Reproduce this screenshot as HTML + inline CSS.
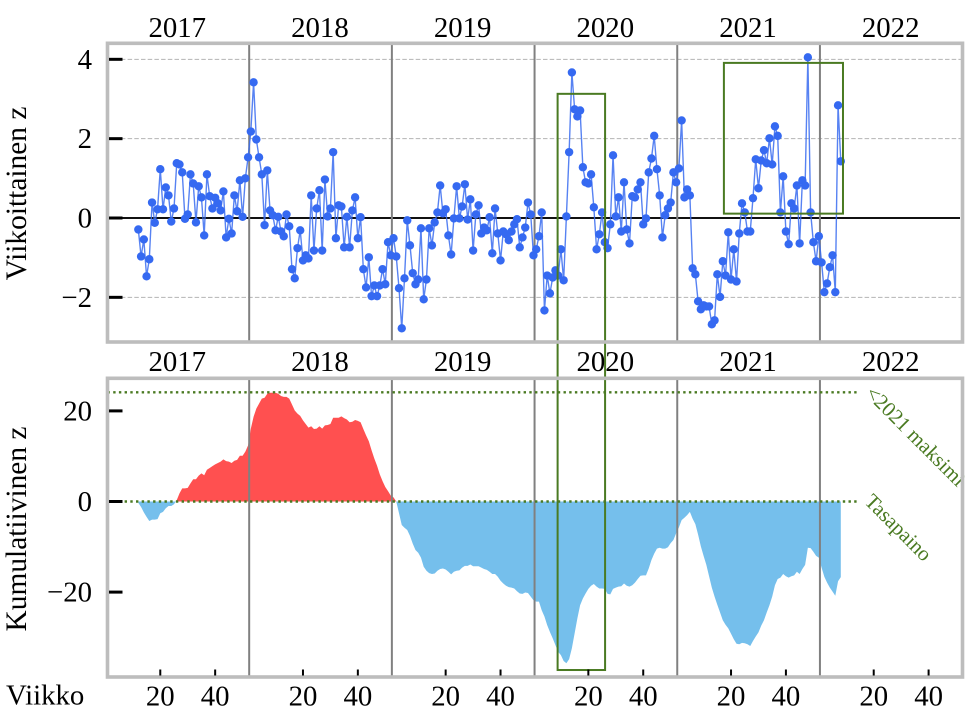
<!DOCTYPE html>
<html lang="fi">
<head>
<meta charset="utf-8">
<title>Viikoittainen ja kumulatiivinen z</title>
<style>
html,body{margin:0;padding:0;background:#fff;}
svg{display:block;}
text{font-family:"Liberation Serif",serif;fill:#000;}
</style>
</head>
<body>
<svg id="chart" xmlns="http://www.w3.org/2000/svg" width="971" height="720" viewBox="0 0 971 720"></svg>
<script>
const firstWeek = 12;
const years = [2017, 2018, 2019, 2020, 2021, 2022];
const weekTicks = [20, 40];
const weeklyTicks = [4, 2, 0, -2];
const gridTicks = [4, 2, -2];
const cumulativeTicks = [20, 0, -20];
const referenceLevels = [24.1, 0];

const weeklyZ = [
-0.29,-0.97,-0.54,-1.47,-1.04,0.39,-0.12,0.22,1.23,0.22,0.77,0.57,-0.09,0.24,1.38,1.35,1.15,-0.02,0.09,1.10,
0.87,-0.11,0.80,0.52,-0.44,1.10,0.55,0.24,0.51,0.37,0.19,0.67,-0.49,-0.02,-0.39,0.57,0.17,0.95,0.03,1.00,
1.53,2.18,3.42,1.98,1.53,1.10,-0.18,1.20,0.19,0.07,-0.31,0.03,-0.34,-0.46,0.09,-0.21,-1.29,-1.52,-0.76,-0.31,
-1.07,-0.94,-1.02,0.57,-0.82,0.24,0.70,-0.82,0.97,0.04,0.24,1.66,-0.51,0.32,0.29,-0.74,0.03,-0.74,0.19,0.52,
-0.51,0.02,-1.29,-1.75,-0.99,-1.97,-1.70,-1.97,-1.70,-1.29,-1.67,-0.61,-0.94,-0.51,-0.97,-1.77,-2.78,-1.52,-0.06,-0.69,
-1.39,-1.67,-1.55,-0.26,-2.05,-1.55,-0.26,-0.69,-0.11,0.14,0.82,0.12,0.22,-0.44,-0.92,-0.01,0.80,-0.01,0.29,0.85,
-0.04,0.47,-0.82,0.09,0.32,-0.39,-0.24,-0.31,0.02,-0.89,0.24,-0.39,-1.07,-0.34,-0.41,-0.56,-0.34,-0.16,-0.03,-0.74,
-0.49,-0.24,0.39,0.09,-0.94,-0.79,-0.46,0.14,-2.33,-1.45,-1.90,-1.50,-1.32,-1.45,-0.79,-1.57,0.04,1.66,3.67,2.74,
2.56,2.71,1.28,0.90,0.87,1.10,0.27,-0.79,-0.41,0.14,-0.61,-0.76,-0.16,1.58,0.04,0.52,-0.34,0.90,-0.29,-0.64,
0.55,0.52,0.72,0.90,-0.16,-0.01,1.15,1.50,2.07,1.23,0.57,-0.49,0.07,0.24,0.39,1.15,0.90,1.25,2.46,0.52,
0.72,0.57,-1.27,-1.42,-2.10,-2.30,-2.20,-2.23,-2.23,-2.68,-2.58,-1.42,-1.99,-1.09,-1.45,-0.36,-1.55,-0.79,-1.60,-0.39,
0.37,0.14,-0.34,-0.34,0.50,1.48,0.75,1.45,1.71,1.38,2.01,1.35,2.31,2.07,0.14,1.05,-0.34,-0.66,0.37,0.24,
0.82,-0.64,0.95,0.82,4.05,0.14,-0.61,-1.09,-0.46,-1.12,-1.87,-1.65,-1.24,-0.94,-1.87,2.84,1.43
];

const cumulativeZ = [
-0.3,-1.2,-2.4,-3.4,-4.3,-4.0,-4.0,-3.9,-2.6,-2.3,-1.5,-1.0,-1.0,-0.6,0.3,1.8,2.9,2.9,3.0,4.0,
4.9,4.9,5.7,6.2,5.8,7.0,7.4,7.8,8.2,8.5,8.8,9.3,8.9,8.8,8.5,9.0,9.2,10.1,10.1,11.0,
12.4,16.1,18.7,20.5,21.6,22.7,22.9,23.8,24.0,24.0,24.0,23.8,23.3,23.1,23.1,22.7,21.4,20.1,19.4,18.9,
17.9,17.1,16.3,16.6,16.0,16.1,16.6,16.1,16.8,16.9,17.1,18.5,18.5,18.5,18.8,18.4,18.1,17.5,17.6,18.0,
17.8,17.5,16.0,14.6,13.3,11.3,9.5,7.9,6.0,4.5,3.2,2.3,1.3,0.9,0,-2.6,-5.2,-5.8,-6.3,-7.6,
-9.3,-10.7,-11.3,-12.4,-14.4,-15.3,-15.8,-16.0,-15.9,-15.3,-14.9,-14.8,-15.0,-15.5,-16.1,-15.5,-15.3,-15.2,-14.6,-14.2,
-14.2,-13.9,-14.3,-14.3,-14.3,-14.6,-14.9,-15.1,-15.5,-16.0,-16.0,-16.6,-17.5,-18.1,-18.6,-18.9,-19.0,-19.2,-19.8,-20.3,
-20.4,-20.1,-20.2,-21.0,-21.8,-22.1,-22.1,-24.0,-25.4,-27.3,-28.8,-30.2,-31.7,-33.2,-33.9,-35.2,-35.7,-34.8,-32.4,-29.1,
-25.8,-22.9,-21.4,-20.3,-19.3,-18.6,-18.2,-18.8,-19.2,-19.2,-19.3,-20.4,-20.5,-19.3,-19.0,-18.8,-18.7,-18.1,-18.6,-18.8,
-18.5,-17.9,-17.1,-16.4,-16.3,-16.3,-14.8,-12.9,-11.5,-10.4,-10.2,-10.4,-10.4,-10.1,-9.2,-8.5,-7.0,-5.7,-4.1,-3.6,
-3.0,-2.3,-3.8,-5.0,-7.3,-9.9,-12.0,-14.0,-16.5,-19.0,-21.0,-22.8,-24.5,-26.2,-27.2,-28.0,-29.2,-30.4,-31.4,-31.5,
-31.2,-31.3,-31.5,-31.9,-30.8,-29.8,-28.9,-27.4,-26.2,-24.5,-22.9,-21.0,-18.5,-17.1,-16.8,-16.0,-16.5,-16.8,-16.5,-16.3,
-15.5,-16.0,-14.9,-14.0,-10.2,-10.3,-11.1,-12.0,-12.4,-14.6,-16.6,-17.9,-19.0,-19.9,-20.8,-17.6,-16.7
];

const svgNS = "http://www.w3.org/2000/svg";
const svg = document.getElementById("chart");
const GREEN = "#4a7a22";
const FRAME = "#bdbdbd";
const LEFT = 107.5, RIGHT = 962.5;
const TOP1 = 43.3, BOT1 = 342, TOP2 = 378.3, BOT2 = 677;
const weeksPerYear = 52;
const FONT = 28.8;

function xScale(t) { return 105.4 + 2.744 * t; }
function yWeekly(v) { return 218 - 39.67 * v; }
function yCum(v) { return 501.5 - 4.53 * v; }
function fmt(v) { return v < 0 ? "\u2212" + Math.abs(v) : String(v); }

function mk(tag, attrs, parent) {
  const e = document.createElementNS(svgNS, tag);
  for (const k in attrs) e.setAttribute(k, attrs[k]);
  (parent || svg).appendChild(e);
  return e;
}

const defs = mk("defs", {});
const clipPos = mk("clipPath", { id: "clip-positive" }, defs);
mk("rect", { x: 0, y: 0, width: 971, height: yCum(0) }, clipPos);
const clipNeg = mk("clipPath", { id: "clip-negative" }, defs);
mk("rect", { x: 0, y: yCum(0), width: 971, height: 720 - yCum(0) }, clipNeg);

/* ---------- top panel ---------- */
const topPanel = mk("g", {});



gridTicks.forEach(function (v) {
  const g = mk("line", { x1: LEFT, x2: RIGHT, y1: yWeekly(v), y2: yWeekly(v), stroke: "#b4b4b4", "stroke-width": 1, "stroke-dasharray": "4.5 2.2" }, topPanel);
  
  
});

const zeroLine = mk("line", { x1: LEFT, x2: 960, y1: yWeekly(0), y2: yWeekly(0), stroke: "#111", "stroke-width": 2 }, topPanel);



years.slice(0, -1).forEach(function (y, k) {
  const tx = xScale(weeksPerYear * (k + 1) + 0.4);
  const l = mk("line", { x1: tx, x2: tx, y1: TOP1, y2: BOT1, stroke: "#808080", "stroke-width": 2 }, topPanel);
  
  
});

const weeklyPts = weeklyZ.map(function (v, i) {
  return xScale(firstWeek + i).toFixed(2) + "," + yWeekly(v).toFixed(2);
}).join(" ");
const weeklyLine = mk("polyline", { points: weeklyPts, fill: "none", stroke: "#3a6cf0", "stroke-opacity": 0.85, "stroke-width": 1.4 }, topPanel);



weeklyZ.forEach(function (v, i) {
  const c = mk("circle", { cx: xScale(firstWeek + i), cy: yWeekly(v), r: 4.2, fill: "#3569f1" }, topPanel);
  
  
});

/* ---------- bottom panel ---------- */
const bottomPanel = mk("g", {});



let areaD = "M" + xScale(firstWeek).toFixed(2) + "," + yCum(0).toFixed(2);
cumulativeZ.forEach(function (v, i) {
  areaD += "L" + xScale(firstWeek + i).toFixed(2) + "," + yCum(v).toFixed(2);
});
areaD += "L" + xScale(firstWeek + cumulativeZ.length - 1).toFixed(2) + "," + yCum(0).toFixed(2) + "Z";

const areaPos = mk("path", { d: areaD, fill: "#ff5050", "clip-path": "url(#clip-positive)" }, bottomPanel);


const areaNeg = mk("path", { d: areaD, fill: "#75bfec", "clip-path": "url(#clip-negative)" }, bottomPanel);



years.slice(0, -1).forEach(function (y, k) {
  const tx = xScale(weeksPerYear * (k + 1) + 0.4);
  const l = mk("line", { x1: tx, x2: tx, y1: TOP2, y2: BOT2, stroke: "#808080", "stroke-width": 2 }, bottomPanel);
  
  
});

referenceLevels.forEach(function (v) {
  const l = mk("line", { x1: LEFT, x2: 858, y1: yCum(v), y2: yCum(v), stroke: GREEN, "stroke-width": 2.4, "stroke-dasharray": "2.4 3.3" }, bottomPanel);
  
  
});

/* ---------- highlight boxes ---------- */
const box2020 = mk("rect", {
  x: xScale(164.8), y: yWeekly(3.13),
  width: xScale(182.1) - xScale(164.8),
  height: yCum(-37.2) - yWeekly(3.13),
  fill: "none", stroke: GREEN, "stroke-width": 2
});



const box2021 = mk("rect", {
  x: xScale(225.4), y: yWeekly(3.91),
  width: xScale(268.8) - xScale(225.4),
  height: yWeekly(0.11) - yWeekly(3.91),
  fill: "none", stroke: GREEN, "stroke-width": 2
});



/* ---------- annotations ---------- */
const noteMax = mk("text", { x: 864.4, y: 394.7, transform: "rotate(45 864.4 394.7)", "font-size": 21, style: "fill:" + GREEN });
noteMax.textContent = "<2021 maksimi";



const noteBal = mk("text", { x: 863.5, y: 502.5, transform: "rotate(45 863.5 502.5)", "font-size": 21, style: "fill:" + GREEN });
noteBal.textContent = "Tasapaino";



/* ---------- frames ---------- */
const whiteMask = mk("rect", { x: 964.3, y: 376, width: 7, height: 304, fill: "#ffffff" });


const frameTop = mk("rect", { x: LEFT, y: TOP1, width: RIGHT - LEFT, height: BOT1 - TOP1, fill: "none", stroke: FRAME, "stroke-width": 3.6 });


const frameBottom = mk("rect", { x: LEFT, y: TOP2, width: RIGHT - LEFT, height: BOT2 - TOP2, fill: "none", stroke: FRAME, "stroke-width": 3.6 });



/* ---------- y ticks and labels ---------- */
weeklyTicks.forEach(function (v) {
  const t = mk("line", { x1: 109, x2: 122.5, y1: yWeekly(v), y2: yWeekly(v), stroke: "#000", "stroke-width": 3 });
  
  
  const l = mk("text", { x: 92, y: yWeekly(v) + 9.5, "text-anchor": "end", "font-size": FONT });
  l.textContent = fmt(v);
  
  
});
cumulativeTicks.forEach(function (v) {
  const t = mk("line", { x1: 109, x2: 122.5, y1: yCum(v), y2: yCum(v), stroke: "#000", "stroke-width": 3 });
  
  
  const l = mk("text", { x: 92, y: yCum(v) + 9.5, "text-anchor": "end", "font-size": FONT });
  l.textContent = fmt(v);
  
  
});

/* ---------- x ticks and year labels ---------- */
years.forEach(function (y, k) {
  const cx = xScale(weeksPerYear * k + 26);
  const a = mk("text", { x: cx + 0.5, y: 37, "text-anchor": "middle", "font-size": FONT });
  a.textContent = String(y);
  
  
  const b = mk("text", { x: cx + 0.5, y: 371, "text-anchor": "middle", "font-size": FONT });
  b.textContent = String(y);
  
  
  weekTicks.forEach(function (w) {
    const tx = xScale(weeksPerYear * k + w);
    const t = mk("line", { x1: tx, x2: tx, y1: 669.5, y2: 675.5, stroke: "#000", "stroke-width": 2 });
    
    
    const l = mk("text", { x: tx, y: 705.5, "text-anchor": "middle", "font-size": FONT });
    l.textContent = String(w);
    
    
  });
});

/* ---------- axis titles ---------- */
const xTitle = mk("text", { x: 6, y: 704.5, "font-size": FONT });
xTitle.textContent = "Viikko";



const yTitleTop = mk("text", { x: 26, y: 193.5, transform: "rotate(-90 26 193.5)", "text-anchor": "middle", "font-size": 29.4 });
yTitleTop.textContent = "Viikoittainen z";



const yTitleBottom = mk("text", { x: 26, y: 529, transform: "rotate(-90 26 529)", "text-anchor": "middle", "font-size": 29.4 });
yTitleBottom.textContent = "Kumulatiivinen z";


</script>
</body>
</html>
